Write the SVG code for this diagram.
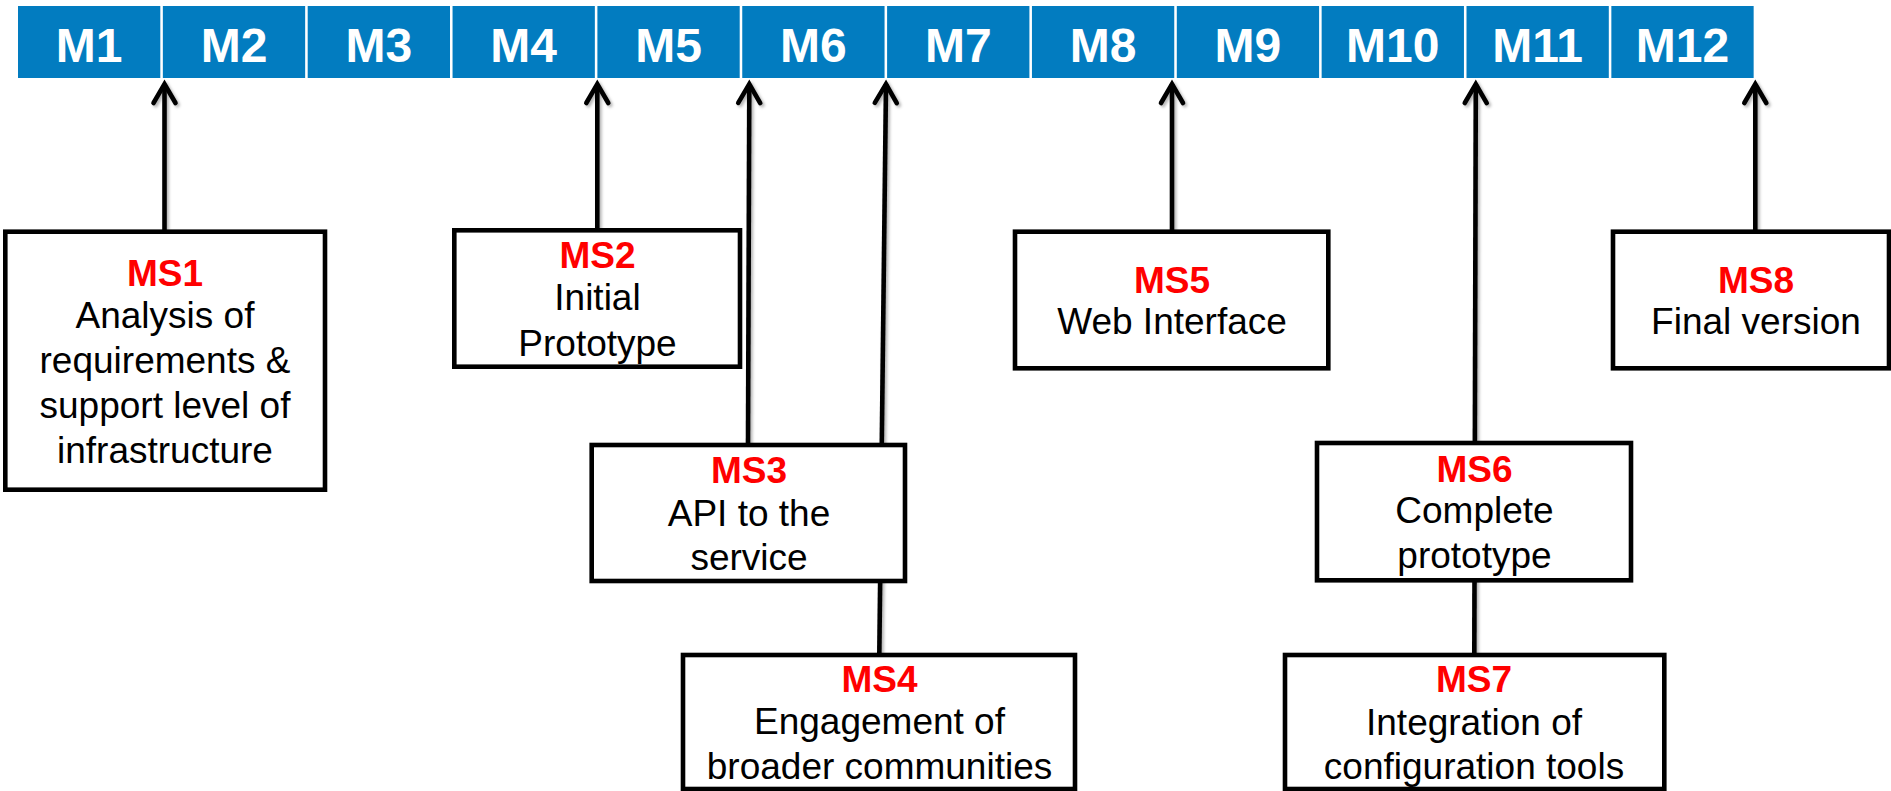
<svg xmlns="http://www.w3.org/2000/svg" width="1891" height="791" viewBox="0 0 1891 791">
  <style>
    .cell { fill: #027cc0; }
    .mlabel { font-family: "Liberation Sans", Arial, sans-serif; font-weight: bold; font-size: 48px; fill: #ffffff; text-anchor: middle; }
    .box { fill: #ffffff; stroke: #000000; stroke-width: 4.6; }
    .ms { font-family: "Liberation Sans", Arial, sans-serif; font-weight: bold; font-size: 37px; fill: #ff0000; text-anchor: middle; }
    .body { font-family: "Liberation Sans", Arial, sans-serif; font-size: 37px; fill: #000000; text-anchor: middle; }
    .conn { fill: none; stroke: #000000; stroke-width: 4.6; }
  </style>
  <defs>
    <marker id="arrow" markerUnits="userSpaceOnUse" viewBox="-24 -16 30 32" markerWidth="30" markerHeight="32" refX="0" refY="0" orient="auto" overflow="visible">
      <path d="M -19,-11 L 0,0 L -19,11" fill="none" stroke="#000000" stroke-width="4.6" stroke-linecap="round" stroke-linejoin="miter"/>
    </marker>
    <filter id="shadow" x="-50%" y="-10%" width="200%" height="120%">
      <feDropShadow dx="2" dy="2" stdDeviation="1.5" flood-color="#000000" flood-opacity="0.3"/>
    </filter>
  </defs>

  <g id="timeline">
    <g id="m1"><rect class="cell" x="18" y="6" width="142.3" height="72"/><text class="mlabel" x="89.15" y="62">M1</text></g>
    <g id="m2"><rect class="cell" x="162.85" y="6" width="142.3" height="72"/><text class="mlabel" x="234" y="62">M2</text></g>
    <g id="m3"><rect class="cell" x="307.7" y="6" width="142.3" height="72"/><text class="mlabel" x="378.85" y="62">M3</text></g>
    <g id="m4"><rect class="cell" x="452.55" y="6" width="142.3" height="72"/><text class="mlabel" x="523.7" y="62">M4</text></g>
    <g id="m5"><rect class="cell" x="597.4" y="6" width="142.3" height="72"/><text class="mlabel" x="668.55" y="62">M5</text></g>
    <g id="m6"><rect class="cell" x="742.25" y="6" width="142.3" height="72"/><text class="mlabel" x="813.4" y="62">M6</text></g>
    <g id="m7"><rect class="cell" x="887.1" y="6" width="142.3" height="72"/><text class="mlabel" x="958.25" y="62">M7</text></g>
    <g id="m8"><rect class="cell" x="1031.95" y="6" width="142.3" height="72"/><text class="mlabel" x="1103.1" y="62">M8</text></g>
    <g id="m9"><rect class="cell" x="1176.8" y="6" width="142.3" height="72"/><text class="mlabel" x="1247.95" y="62">M9</text></g>
    <g id="m10"><rect class="cell" x="1321.65" y="6" width="142.3" height="72"/><text class="mlabel" x="1392.8" y="62">M10</text></g>
    <g id="m11"><rect class="cell" x="1466.5" y="6" width="142.3" height="72"/><text class="mlabel" x="1537.65" y="62">M11</text></g>
    <g id="m12"><rect class="cell" x="1611.35" y="6" width="142.3" height="72"/><text class="mlabel" x="1682.5" y="62">M12</text></g>
  </g>

  <g id="connectors" filter="url(#shadow)">
    <line class="conn" x1="164.5" y1="230" x2="164.5" y2="84" marker-end="url(#arrow)"/>
    <line class="conn" x1="597.3" y1="229" x2="597.3" y2="84" marker-end="url(#arrow)"/>
    <line class="conn" x1="748" y1="444" x2="749.3" y2="84" marker-end="url(#arrow)"/>
    <line class="conn" x1="879.3" y1="654" x2="886" y2="84" marker-end="url(#arrow)"/>
    <line class="conn" x1="1172" y1="230" x2="1172" y2="84" marker-end="url(#arrow)"/>
    <line class="conn" x1="1474.3" y1="654" x2="1475.8" y2="84" marker-end="url(#arrow)"/>
    <line class="conn" x1="1755.3" y1="230" x2="1755.3" y2="84" marker-end="url(#arrow)"/>
  </g>

  <g id="ms1">
    <rect class="box" x="5.3" y="231.7" width="319.7" height="258"/>
    <text class="ms" x="165" y="285.7">MS1</text>
    <text class="body" x="165" y="328.3">Analysis of</text>
    <text class="body" x="165" y="372.7">requirements &amp;</text>
    <text class="body" x="165" y="417.7">support level of</text>
    <text class="body" x="165" y="463.3">infrastructure</text>
  </g>
  <g id="ms2">
    <rect class="box" x="454.3" y="230.3" width="285.7" height="136.4"/>
    <text class="ms" x="597.5" y="268.3">MS2</text>
    <text class="body" x="597.5" y="310">Initial</text>
    <text class="body" x="597.5" y="356">Prototype</text>
  </g>
  <g id="ms3">
    <rect class="box" x="591.7" y="445" width="313.3" height="136"/>
    <text class="ms" x="749" y="482.7">MS3</text>
    <text class="body" x="749" y="526">API to the</text>
    <text class="body" x="749" y="570">service</text>
  </g>
  <g id="ms4">
    <rect class="box" x="683" y="655" width="392" height="134"/>
    <text class="ms" x="879.5" y="691.7">MS4</text>
    <text class="body" x="879.5" y="734">Engagement of</text>
    <text class="body" x="879.5" y="779.3">broader communities</text>
  </g>
  <g id="ms5">
    <rect class="box" x="1015" y="231.7" width="313.3" height="136.6"/>
    <text class="ms" x="1172" y="292.7">MS5</text>
    <text class="body" x="1172" y="334">Web Interface</text>
  </g>
  <g id="ms6">
    <rect class="box" x="1317" y="443" width="314" height="137.3"/>
    <text class="ms" x="1474.5" y="481.7">MS6</text>
    <text class="body" x="1474.5" y="523.3">Complete</text>
    <text class="body" x="1474.5" y="567.7">prototype</text>
  </g>
  <g id="ms7">
    <rect class="box" x="1285" y="655" width="379.3" height="134"/>
    <text class="ms" x="1474" y="691.7">MS7</text>
    <text class="body" x="1474" y="735">Integration of</text>
    <text class="body" x="1474" y="779.3">configuration tools</text>
  </g>
  <g id="ms8">
    <rect class="box" x="1613" y="231.7" width="276" height="136.6"/>
    <text class="ms" x="1756" y="293.3">MS8</text>
    <text class="body" x="1756" y="334">Final version</text>
  </g>
</svg>
